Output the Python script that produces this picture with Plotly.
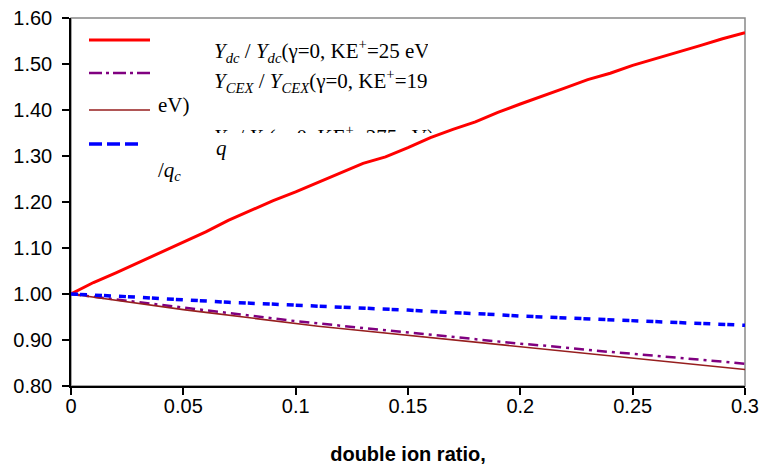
import plotly.graph_objects as go

# ---- data ----
ratio = [0.00, 0.01, 0.02, 0.03, 0.04, 0.05, 0.06, 0.07, 0.08, 0.09, 0.10,
         0.11, 0.12, 0.13, 0.14, 0.15, 0.16, 0.17, 0.18, 0.19, 0.20,
         0.21, 0.22, 0.23, 0.24, 0.25, 0.26, 0.27, 0.28, 0.29, 0.30]

y_dc = [1.000, 1.025, 1.046, 1.068, 1.090, 1.112, 1.135, 1.160, 1.182, 1.203, 1.222,
        1.243, 1.264, 1.284, 1.298, 1.318, 1.340, 1.358, 1.374, 1.395, 1.413,
        1.430, 1.448, 1.466, 1.480, 1.497, 1.511, 1.526, 1.540, 1.555, 1.568]

y_cex = [1.000, 0.994, 0.988, 0.982, 0.976, 0.970, 0.964, 0.958, 0.952, 0.946, 0.941,
         0.936, 0.931, 0.926, 0.921, 0.916, 0.911, 0.906, 0.901, 0.897, 0.892,
         0.888, 0.883, 0.879, 0.874, 0.870, 0.866, 0.862, 0.858, 0.853, 0.848]

y_275 = [1.000, 0.993, 0.986, 0.980, 0.973, 0.966, 0.960, 0.954, 0.948, 0.942, 0.935,
         0.930, 0.925, 0.920, 0.916, 0.911, 0.906, 0.900, 0.895, 0.890, 0.885,
         0.880, 0.875, 0.870, 0.865, 0.860, 0.856, 0.851, 0.846, 0.841, 0.836]

q_ratio = [1.000, 0.998, 0.995, 0.993, 0.990, 0.987, 0.985, 0.982, 0.980, 0.978, 0.976,
           0.974, 0.971, 0.969, 0.967, 0.965, 0.962, 0.960, 0.957, 0.955, 0.952,
           0.950, 0.948, 0.946, 0.944, 0.942, 0.940, 0.938, 0.936, 0.934, 0.932]

x_ticks = [0, 0.05, 0.1, 0.15, 0.2, 0.25, 0.3]
x_ticktext = ["0", "0.05", "0.1", "0.15", "0.2", "0.25", "0.3"]
y_ticks = [0.8, 0.9, 1.0, 1.1, 1.2, 1.3, 1.4, 1.5, 1.6]

legend_texts = [
    "<i>Y</i><sub><i>dc</i></sub> / <i>Y</i><sub><i>dc</i></sub>(γ=0, KE<sup>+</sup>=25 eV)",
    "<i>Y</i><sub><i>CEX</i></sub> / <i>Y</i><sub><i>CEX</i></sub>(γ=0, KE<sup>+</sup>=195 eV)",
    "eV)",
    "<i>Y</i><sub><i>q</i></sub> / <i>Y</i><sub><i>q</i></sub>(γ=0, KE<sup>+</sup>=275 eV)",
    "<i>q</i>",
    "/<i>q</i><sub><i>c</i></sub>",
]
x_title = "double ion ratio,"

# ---- styling ----
RED = "#FF0000"
PURPLE = "#800080"
BROWN = "#961E1E"
BLUE = "#0000FF"
SANS = "Liberation Sans, Arial, sans-serif"
SERIF = "Liberation Serif, Times New Roman, serif"
LEG_SIZE = 21

W, H = 761, 468
ML, MR, MT, MB = 71, 16, 18, 82
PW, PH = W - ML - MR, H - MT - MB


def px(xp):
    """page pixel x -> paper fraction"""
    return (xp - ML) / PW


def py(yp):
    """page pixel y -> paper fraction"""
    return (H - MB - yp) / PH


fig = go.Figure()

fig.add_trace(go.Scatter(x=ratio, y=y_dc, mode="lines",
                         line=dict(color=RED, width=3), showlegend=False))
fig.add_trace(go.Scatter(x=ratio, y=y_cex, mode="lines",
                         line=dict(color=PURPLE, width=2.5, dash="10px,5px,3px,5px"),
                         showlegend=False))
fig.add_trace(go.Scatter(x=ratio, y=y_275, mode="lines",
                         line=dict(color=BROWN, width=1.6), showlegend=False))
fig.add_trace(go.Scatter(x=ratio, y=q_ratio, mode="lines",
                         line=dict(color=BLUE, width=3.5, dash="7px,2px,7px,8px"),
                         showlegend=False))

# clipped legend texts (clipped by small overlay subplots)
box1 = (200, 428, 25, 100)   # x0, x1, y0(top), y1(bottom) in page pixels
box2 = (200, 436, 118, 133)


def rel(b, xp, yp):
    return (xp - b[0]) / (b[1] - b[0]), (b[3] - yp) / (b[3] - b[2])


t1 = rel(box1, 214, 53)
t2 = rel(box1, 214, 83)
fig.add_trace(go.Scatter(x=[t1[0], t2[0]], y=[t1[1], t2[1]], mode="text",
                         text=[legend_texts[0], legend_texts[1]],
                         textposition="middle right",
                         textfont=dict(family=SERIF, size=LEG_SIZE, color="black"),
                         cliponaxis=True, xaxis="x2", yaxis="y2",
                         showlegend=False, hoverinfo="skip"))
t4 = rel(box2, 214, 139)
fig.add_trace(go.Scatter(x=[t4[0]], y=[t4[1]], mode="text",
                         text=[legend_texts[3]], textposition="middle right",
                         textfont=dict(family=SERIF, size=LEG_SIZE, color="black"),
                         cliponaxis=True, xaxis="x3", yaxis="y3",
                         showlegend=False, hoverinfo="skip"))

shapes = [
    # plot-area border (gray)
    dict(type="rect", xref="paper", yref="paper", x0=0, x1=1, y0=0, y1=1,
         line=dict(color="#888888", width=1.5), layer="below"),
    # legend samples
    dict(type="line", xref="paper", yref="paper", x0=px(89), x1=px(150), y0=py(40), y1=py(40),
         line=dict(color=RED, width=3)),
    dict(type="line", xref="paper", yref="paper", x0=px(89), x1=px(150), y0=py(73), y1=py(73),
         line=dict(color=PURPLE, width=2.5, dash="13px,4px,3px,4px")),
    dict(type="line", xref="paper", yref="paper", x0=px(89), x1=px(150), y0=py(110), y1=py(110),
         line=dict(color=BROWN, width=1.6)),
    dict(type="line", xref="paper", yref="paper", x0=px(89), x1=px(141), y0=py(144), y1=py(144),
         line=dict(color=BLUE, width=3.5, dash="13px,5px")),
]

annotations = [
    dict(text=legend_texts[2], x=px(156), y=py(105), xref="paper", yref="paper",
         xanchor="left", yanchor="middle", showarrow=False,
         font=dict(family=SERIF, size=LEG_SIZE, color="black")),
    dict(text=legend_texts[4], x=px(214), y=py(148), xref="paper", yref="paper",
         xanchor="left", yanchor="middle", showarrow=False,
         font=dict(family=SERIF, size=LEG_SIZE, color="black")),
    dict(text=legend_texts[5], x=px(156), y=py(171), xref="paper", yref="paper",
         xanchor="left", yanchor="middle", showarrow=False,
         font=dict(family=SERIF, size=LEG_SIZE, color="black")),
]

fig.update_layout(
    width=W, height=H,
    margin=dict(l=ML, r=MR, t=MT, b=MB, pad=0, autoexpand=False),
    paper_bgcolor="white",
    plot_bgcolor="rgba(0,0,0,0)",
    font=dict(family=SANS, size=20, color="black"),
    showlegend=False,
    hovermode=False,
    shapes=shapes,
    annotations=annotations,
    xaxis=dict(range=[0, 0.3], tickvals=x_ticks, ticktext=x_ticktext, automargin=False,
               showgrid=False, zeroline=False, showline=True, linecolor="black",
               linewidth=1.5, ticks="outside", ticklen=7, tickwidth=1.5,
               tickcolor="black", tickfont=dict(family=SANS, size=20),
               ticklabelstandoff=-6, ticklabeloverflow="allow",
               title=dict(text="<b>" + x_title + "</b>",
                          font=dict(family=SANS, size=20), standoff=31)),
    yaxis=dict(range=[0.8, 1.6], tickvals=y_ticks, tickformat=".2f", automargin=False,
               showgrid=False, zeroline=False, showline=True, linecolor="black",
               linewidth=1.5, ticks="outside", ticklen=7, tickwidth=1.5,
               tickcolor="black", tickfont=dict(family=SANS, size=20),
               ticklabelstandoff=6, ticklabeloverflow="allow"),
    xaxis2=dict(domain=[px(box1[0]), px(box1[1])], range=[0, 1], visible=False,
                anchor="y2", fixedrange=True),
    yaxis2=dict(domain=[py(box1[3]), py(box1[2])], range=[0, 1], visible=False,
                anchor="x2", fixedrange=True),
    xaxis3=dict(domain=[px(box2[0]), px(box2[1])], range=[0, 1], visible=False,
                anchor="y3", fixedrange=True),
    yaxis3=dict(domain=[py(box2[3]), py(box2[2])], range=[0, 1], visible=False,
                anchor="x3", fixedrange=True),
)

fig.write_html(
    "out.html",
    config={"displayModeBar": False},
    post_script="document.body.style.margin='0';document.body.style.overflow='hidden';",
)
